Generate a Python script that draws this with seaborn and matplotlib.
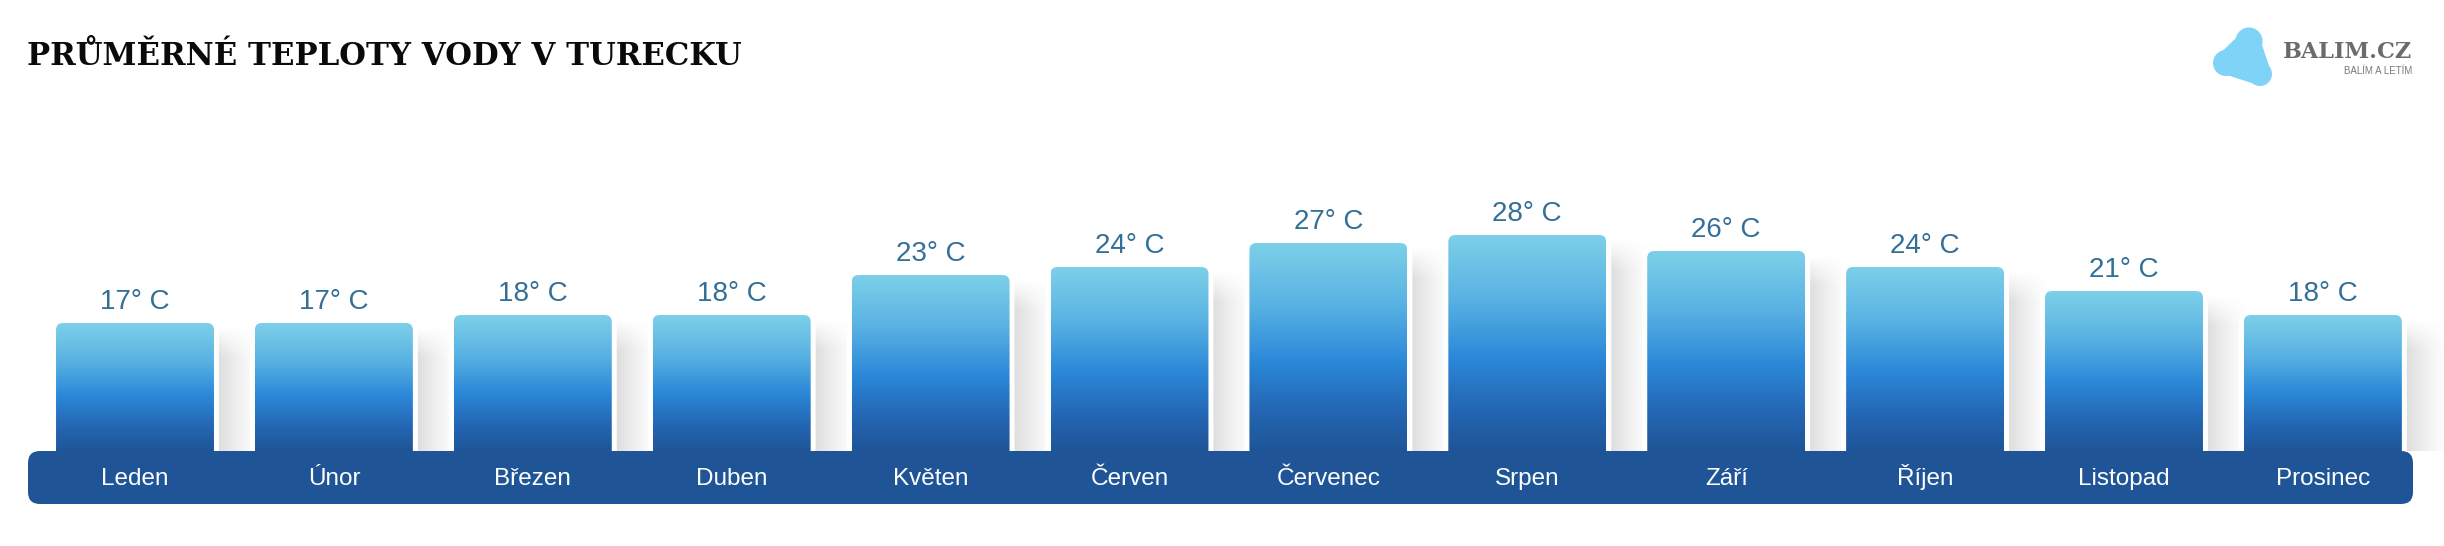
import numpy as np
import pandas as pd
import seaborn as sns
import matplotlib.pyplot as plt
from matplotlib.colors import LinearSegmentedColormap
from matplotlib.patches import FancyBboxPatch, Polygon, Circle

# --- data ---
months = ["Leden", "Únor", "Březen", "Duben", "Květen", "Červen",
          "Červenec", "Srpen", "Září", "Říjen", "Listopad", "Prosinec"]
temps = [17, 17, 18, 18, 23, 24, 27, 28, 26, 24, 21, 18]
value_labels = [f"{t}° C" for t in temps]
title = "PRŮMĚRNÉ TEPLOTY VODY V TURECKU"
brand = "BALIM.CZ"
tagline = "BALÍM A LETÍM"

# --- layout (pixels of the 2444x546 canvas) ---
W, H, DPI = 2444, 546, 100
PX_X = 198.9          # px per month slot
PX_Y = 8.0            # px per degree
X0, Y0 = 135, 459     # px of first slot centre / of 0 degrees


def px_w(p):
    return p / PX_X


def px_h(p):
    return p / PX_Y


def fit_width(fig, txt, target_px, max_size):
    # shrink a text until it is no wider than the reference
    fig.canvas.draw()
    w = txt.get_window_extent().width
    if w > target_px:
        txt.set_fontsize(max_size * target_px / w)


def plot_water_temps():
    sns.set_theme(style="white")
    plt.rcParams["font.family"] = ["Liberation Sans", "DejaVu Sans"]

    fig = plt.figure(figsize=(W / DPI, H / DPI), dpi=DPI)
    ax = fig.add_axes([0, 0, 1, 1])

    df = pd.DataFrame({"month": months, "temp": temps})
    sns.barplot(data=df, x="month", y="temp", width=0.794, color="#2a88d8", ax=ax)

    ax.set_xlim(-X0 / PX_X, (W - X0) / PX_X)
    ax.set_ylim(-(H - Y0) / PX_Y, Y0 / PX_Y)
    ax.axis("off")

    band_top = px_h(Y0 - 451)
    band_bot = -px_h(504 - Y0)

    grad = LinearSegmentedColormap.from_list(
        "water", [(0.0, "#7dd0e9"), (0.3, "#58b1e2"), (0.57, "#2b88d8"),
                  (0.8, "#2467b4"), (1.0, "#1f5597")])
    g = np.linspace(0, 1, 256).reshape(-1, 1)

    # shadow profile to the right of each bar
    sw = 48
    d = np.arange(sw)
    alpha_x = 0.26 * np.clip(1 - d / sw, 0, 1) ** 1.4

    for bar in list(ax.patches):
        x0 = bar.get_x()
        w = bar.get_width()
        top = bar.get_height()
        bar.set_visible(False)

        # soft grey shadow
        sh_top = top - px_h(4)
        sh_h_px = int((sh_top - band_top) * PX_Y)
        ys = np.arange(sh_h_px)
        alpha_y = np.clip(ys / 30, 0, 1)
        rgba = np.zeros((sh_h_px, sw, 4))
        rgba[..., :3] = 0.42
        rgba[..., 3] = alpha_y[:, None] * alpha_x[None, :]
        ax.imshow(rgba, extent=[x0 + w, x0 + w + px_w(sw), band_top, sh_top],
                  origin="upper", aspect="auto", zorder=1, interpolation="bilinear")

        # white frame
        frame = FancyBboxPatch((x0 - px_w(5), 0), w + px_w(10), top + px_h(5),
                               boxstyle=f"round,pad=0,rounding_size={px_w(9)}",
                               mutation_aspect=PX_X / PX_Y,
                               facecolor="white", edgecolor="none", zorder=2)
        ax.add_patch(frame)

        # gradient bar with rounded top
        shape = FancyBboxPatch((x0, 0), w, top,
                               boxstyle=f"round,pad=0,rounding_size={px_w(7)}",
                               mutation_aspect=PX_X / PX_Y,
                               facecolor="none", edgecolor="none", zorder=3)
        ax.add_patch(shape)
        im = ax.imshow(g, cmap=grad, extent=[x0, x0 + w, band_top, top],
                       origin="upper", aspect="auto", zorder=3, interpolation="bilinear")
        im.set_clip_path(shape)

    ax.set_xlim(-X0 / PX_X, (W - X0) / PX_X)
    ax.set_ylim(-(H - Y0) / PX_Y, Y0 / PX_Y)

    # month band
    band = FancyBboxPatch((-px_w(X0 - 28), band_bot), px_w(2413 - 28), band_top - band_bot,
                          boxstyle=f"round,pad=0,rounding_size={px_w(12)}",
                          mutation_aspect=PX_X / PX_Y,
                          facecolor="#1f5597", edgecolor="none", zorder=4)
    ax.add_patch(band)

    for i, (m, t, lab) in enumerate(zip(months, temps, value_labels)):
        ax.text(i, t + px_h(14), lab, ha="center", va="baseline",
                fontsize=20, color="#336f97", zorder=5)
        ax.text(i, -px_h(485 - Y0), m, ha="center", va="baseline",
                fontsize=17.5, color="white", zorder=5)

    # title
    tt = fig.text(27 / W, 1 - 65 / H, title, ha="left", va="baseline",
                  fontsize=27.5, color="#0a0a0a", family="DejaVu Serif", weight="black")
    fit_width(fig, tt, 716, 27.5)

    # logo blob: a rounded triangle with fuller round lobes
    blob_col = "#7fd3f7"
    lobes = [((2249, 41), 13.5), ((2226, 63), 13), ((2260, 74), 12)]
    core = Polygon([(x / DPI, (H - y) / DPI) for (x, y), r in lobes], closed=True,
                   transform=fig.dpi_scale_trans, facecolor=blob_col,
                   edgecolor=blob_col, linewidth=16, joinstyle="round")
    fig.add_artist(core)
    for (x, y), r in lobes:
        fig.add_artist(Circle((x / DPI, (H - y) / DPI), r / DPI,
                              transform=fig.dpi_scale_trans,
                              facecolor=blob_col, edgecolor="none"))

    bt = fig.text(2412 / W, 1 - 58 / H, brand, ha="right", va="baseline",
                  fontsize=18, color="#6b6b6b", family="DejaVu Serif", weight="bold")
    fit_width(fig, bt, 129, 18)
    fig.text(2412 / W, 1 - 74 / H, tagline, ha="right", va="baseline",
             fontsize=7, color="#7a7a7a")

    fig.savefig("out.png", dpi=DPI, facecolor="white")


if __name__ == "__main__":
    plot_water_temps()
